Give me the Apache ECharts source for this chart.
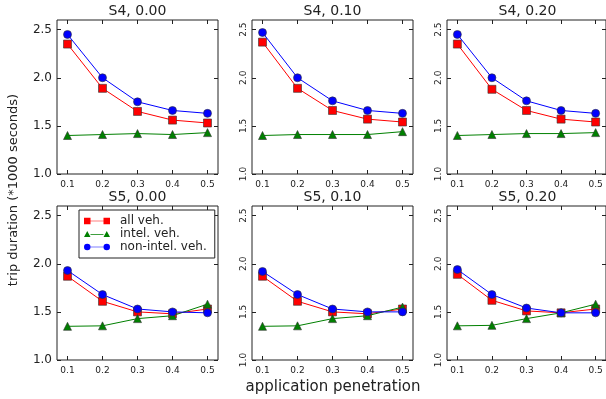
<!DOCTYPE html>
<html>
<head>
<meta charset="utf-8">
<script src="https://cdn.jsdelivr.net/npm/echarts@6/dist/echarts.min.js"></script>
<style>
  html, body { margin: 0; padding: 0; background: #fff; }
  #chart { width: 606px; height: 399px; }
</style>
</head>
<body>
<div id="chart"></div>
<script>
const penetration = [0.1, 0.2, 0.3, 0.4, 0.5];
const xTicks = [0.1, 0.2, 0.3, 0.4, 0.5];
const yTicks = [1.0, 1.5, 2.0, 2.5];
const panelTitles = ["S4, 0.00", "S4, 0.10", "S4, 0.20", "S5, 0.00", "S5, 0.10", "S5, 0.20"];
const seriesNames = ["all veh.", "intel. veh.", "non-intel. veh."];

// one row per panel, in panelTitles order
const allVeh = [
  [2.35, 1.89, 1.65, 1.56, 1.53],
  [2.37, 1.89, 1.66, 1.57, 1.54],
  [2.35, 1.88, 1.66, 1.57, 1.54],
  [1.87, 1.61, 1.50, 1.48, 1.53],
  [1.87, 1.61, 1.50, 1.48, 1.53],
  [1.89, 1.62, 1.51, 1.49, 1.53]
];
const intelVeh = [
  [1.40, 1.41, 1.42, 1.41, 1.43],
  [1.40, 1.41, 1.41, 1.41, 1.44],
  [1.40, 1.41, 1.42, 1.42, 1.43],
  [1.35, 1.355, 1.43, 1.46, 1.58],
  [1.35, 1.355, 1.43, 1.46, 1.55],
  [1.355, 1.36, 1.43, 1.49, 1.58]
];
const nonIntelVeh = [
  [2.45, 2.00, 1.75, 1.66, 1.63],
  [2.47, 2.00, 1.76, 1.66, 1.63],
  [2.45, 2.00, 1.76, 1.66, 1.63],
  [1.93, 1.68, 1.53, 1.50, 1.49],
  [1.92, 1.68, 1.53, 1.50, 1.50],
  [1.94, 1.68, 1.54, 1.49, 1.49]
];

const FONT = "DejaVu Sans";
const lefts = [57, 252, 447];
const tops = [20, 206];
const W = 161, H = 154;

const styles = [
  { color: "#ff0000", symbol: "rect", size: 8 },
  { color: "#008000", symbol: "triangle", size: 8 },
  { color: "#0000ff", symbol: "circle", size: 8 }
];
const legendIcons = [
  "path://M0,0H10V10H0Z M10,4.5H30V5.5H10Z M30,0H40V10H30Z",
  "path://M0,10L5,1L10,10Z M10,5.5H30V6.5H10Z M30,10L35,1L40,10Z",
  "path://M0,5A5,5 0 1,1 10,5A5,5 0 1,1 0,5Z M10,4.5H30V5.5H10Z M30,5A5,5 0 1,1 40,5A5,5 0 1,1 30,5Z"
];

const grid = [], xAxis = [], yAxis = [], series = [], title = [];

panelTitles.forEach((t, p) => {
  const col = p % 3, row = Math.floor(p / 3);
  grid.push({
    left: lefts[col], top: tops[row], width: W, height: H,
    show: true, borderColor: "#222", borderWidth: 1, backgroundColor: "transparent"
  });
  title.push({
    text: t,
    left: lefts[col] + W / 2,
    top: tops[row] - 16,
    padding: 0,
    textAlign: "center",
    textStyle: { fontFamily: FONT, fontSize: 14, fontWeight: "normal", color: "#222" }
  });
  // bottom and top x axes
  ["bottom", "top"].forEach((pos, k) => {
    xAxis.push({
      type: "value", gridIndex: p, position: pos, min: 0.07, max: 0.53,
      axisLine: { show: false }, splitLine: { show: false },
      axisTick: { show: true, inside: true, length: 4, customValues: xTicks, lineStyle: { color: "#222" } },
      axisLabel: {
        show: k === 0, customValues: xTicks, margin: 6,
        formatter: v => v.toFixed(1),
        fontFamily: FONT, fontSize: 9, color: "#222"
      }
    });
  });
  ["left", "right"].forEach((pos, k) => {
    yAxis.push({
      type: "value", gridIndex: p, position: pos, min: 1.0, max: 2.6,
      axisLine: { show: false }, splitLine: { show: false },
      axisTick: { show: true, inside: true, length: 4, customValues: yTicks, lineStyle: { color: "#222" } },
      axisLabel: {
        show: k === 0, customValues: yTicks,
        formatter: v => v.toFixed(1),
        rotate: col === 0 ? 0 : 90,
        margin: col === 0 ? 5 : 4,
        fontFamily: FONT, fontSize: col === 0 ? 12 : 9, color: "#222"
      }
    });
  });
  [allVeh, intelVeh, nonIntelVeh].forEach((vals, s) => {
    series.push({
      name: seriesNames[s],
      type: "line",
      xAxisIndex: p * 2,
      yAxisIndex: p * 2,
      data: penetration.map((x, i) => [x, vals[p][i]]),
      symbol: styles[s].symbol,
      symbolSize: styles[s].size,
      showAllSymbol: true,
      lineStyle: { color: styles[s].color, width: 1 },
      itemStyle: { color: styles[s].color, borderColor: "#333", borderWidth: 0.6 },
      emphasis: { disabled: true },
      z: 2 + s
    });
  });
});

const chart = echarts.init(document.getElementById("chart"));
chart.setOption({
  animation: false,
  backgroundColor: "#fff",
  title,
  grid,
  xAxis,
  yAxis,
  series,
  legend: {
    data: seriesNames.map((n, i) => ({ name: n, icon: legendIcons[i] })),
    orient: "vertical",
    left: 79,
    top: 210,
    padding: [5, 8, 5, 5],
    itemWidth: 26,
    itemHeight: 7,
    itemGap: 1,
    selectedMode: false,
    borderColor: "#222",
    borderWidth: 1,
    backgroundColor: "#fff",
    itemStyle: { borderWidth: 0 },
    textStyle: { fontFamily: FONT, fontSize: 12, color: "#222", padding: [0, 0, 0, 5] }
  },
  graphic: [
    {
      type: "text", x: 14, y: 190, rotation: Math.PI / 2,
      style: { text: "trip duration (*1000 seconds)", fontFamily: FONT, fontSize: 13, fill: "#222", align: "center", verticalAlign: "middle" }
    },
    {
      type: "text", x: 333, y: 387,
      style: { text: "application penetration", fontFamily: FONT, fontSize: 15, fill: "#222", align: "center", verticalAlign: "middle" }
    }
  ]
});
</script>
</body>
</html>
